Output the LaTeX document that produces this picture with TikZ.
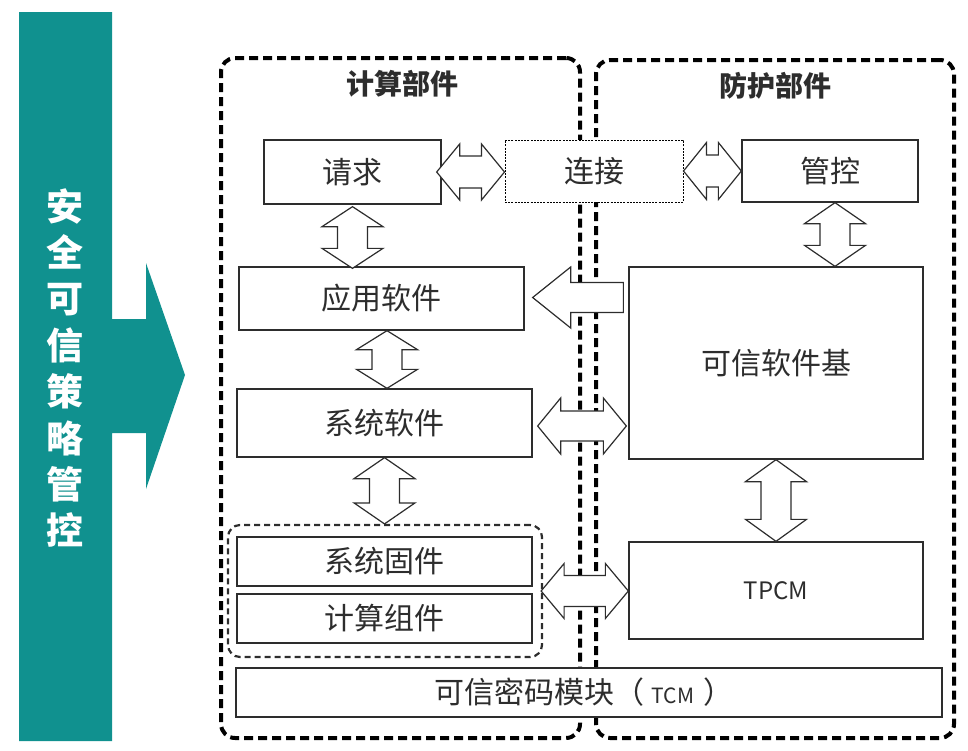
\documentclass[tikz,border=0pt]{standalone}
\usepackage{fontspec}
\setmainfont{Noto Sans CJK SC}
\usetikzlibrary{calc}
\definecolor{tealc}{RGB}{16,145,143}
\definecolor{ink}{RGB}{45,45,45}
\tikzset{
  box/.style={draw=ink, line width=1.3pt, fill=white, inner sep=0pt, text=ink,
    font=\fontsize{30}{30}\selectfont},
  dotbox/.style={box, draw=black, line width=1pt, dash pattern=on 2pt off 1.2pt},
  container/.style={draw=black, line width=4pt, dash pattern=on 9pt off 5pt,
    rounded corners=14pt, inner sep=0pt},
  innerdash/.style={draw=ink, line width=2.2pt, dash pattern=on 6pt off 4pt,
    rounded corners=12pt, inner sep=0pt},
  barrow/.style={draw=ink, line width=1.2pt, fill=white, line join=miter},
  titletext/.style={font=\bfseries\fontsize{28}{28}\selectfont, text=ink},
}
% horizontal double block arrow: #1 left point, #2 right point (x only),
% #3 shaft half width, #4 head half width, #5 head length
\newcommand\hdarrow[5]{%
  \draw[barrow] let \p1=#1, \p2=#2 in
    (\x1,\y1) -- (\x1+#5,\y1+#4) -- (\x1+#5,\y1+#3) -- (\x2-#5,\y1+#3)
    -- (\x2-#5,\y1+#4) -- (\x2,\y1) -- (\x2-#5,\y1-#4) -- (\x2-#5,\y1-#3)
    -- (\x1+#5,\y1-#3) -- (\x1+#5,\y1-#4) -- cycle;}
% vertical double block arrow: #1 top point, #2 bottom point (y only)
\newcommand\vdarrow[5]{%
  \draw[barrow] let \p1=#1, \p2=#2 in
    (\x1,\y1) -- (\x1+#4,\y1-#5) -- (\x1+#3,\y1-#5) -- (\x1+#3,\y2+#5)
    -- (\x1+#4,\y2+#5) -- (\x1,\y2) -- (\x1-#4,\y2+#5) -- (\x1-#3,\y2+#5)
    -- (\x1-#3,\y1-#5) -- (\x1-#4,\y1-#5) -- cycle;}
\begin{document}
\begin{tikzpicture}[x=1pt,y=-1pt]
\useasboundingbox (0,0) rectangle (968,750);
% teal policy arrow
\fill[tealc] (19,12) -- (112,12) -- (112,319) -- (146,319) -- (146,263)
  -- (185,375) -- (146,489) -- (146,433) -- (112,433) -- (112,741)
  -- (19,741) -- cycle;
\node[text=white, font=\bfseries\fontsize{37}{46.4}\selectfont, align=center,
  inner sep=0pt] (policy) at (65,368) {安\\全\\可\\信\\策\\略\\管\\控};
% containers
\node[container, minimum width=359, minimum height=680] (compute) at (400.5,398) {};
\node[container, minimum width=358, minimum height=678] (protect) at (775,399) {};
\node[titletext] (ctitle) at (402,84) {计算部件};
\node[titletext] (ptitle) at (775,86) {防护部件};
% inner group
\node[innerdash, minimum width=314, minimum height=132] (grp) at (385,591) {};
% boxes
\node[box, minimum width=177, minimum height=64] (req) at (352.5,172) {请求};
\node[dotbox, minimum width=178, minimum height=62] (conn) at (594,171) {连接};
\node[box, minimum width=176, minimum height=62] (ctrl) at (830,171) {管控};
\node[box, minimum width=285, minimum height=63] (app) at (381.5,298.5) {应用软件};
\node[box, minimum width=295, minimum height=68] (sys) at (384.5,423) {系统软件};
\node[box, minimum width=294, minimum height=192] (tsb) at (776,363) {可信软件基};
\node[box, minimum width=294, minimum height=97, font=\fontsize{24}{24}\selectfont] (tpcm) at (776,590.5) {TPCM};
\node[box, minimum width=295, minimum height=49] (fw) at (384.5,561.5) {系统固件};
\node[box, minimum width=295, minimum height=49] (comp) at (384.5,618.5) {计算组件};
\node[box, minimum width=706, minimum height=49] (tcm) at (589,692.5) {};
\node[text=ink, font=\fontsize{30}{30}\selectfont, inner sep=0pt] (tcmtext) at (584,692.5)
  {可信密码模块（\hspace{7pt}{\fontsize{21}{21}\selectfont TCM}\hspace{9pt}）};
% horizontal double arrows
\hdarrow{([xshift=-5pt]req.east)}{(conn.west)}{16pt}{28pt}{23pt}
\hdarrow{(conn.east)}{(ctrl.west)}{16pt}{28.5pt}{23pt}
\hdarrow{([shift={(5,3)}]sys.east)}{([xshift=-2pt]tsb.west)}{15pt}{28pt}{23pt}
\hdarrow{([xshift=-2pt]grp.east)}{(tpcm.west)}{15.5pt}{27.5pt}{23pt}
% vertical double arrows
\vdarrow{([yshift=-2pt]req.south)}{([yshift=-2pt]app.north)}{15pt}{30.5pt}{20pt}
\vdarrow{([xshift=5.5pt]app.south)}{(sys.north)}{15pt}{30.5pt}{19pt}
\vdarrow{(sys.south)}{(grp.north)}{15pt}{30.5pt}{21pt}
\vdarrow{([xshift=5pt]ctrl.south)}{(tsb.north)}{15pt}{30.5pt}{21pt}
\vdarrow{(tsb.south)}{(tpcm.north)}{15pt}{30.5pt}{22pt}
% single arrow from trusted software base to application software
\draw[barrow] let \p1=([shift={(8,-1)}]app.east), \p2=([xshift=-5pt]tsb.west) in
  (\x1,\y1) -- (\x1+38pt,\y1+30.5pt) -- (\x1+38pt,\y1+15pt) -- (\x2,\y1+15pt)
  -- (\x2,\y1-15pt) -- (\x1+38pt,\y1-15pt) -- (\x1+38pt,\y1-30.5pt) -- cycle;
\end{tikzpicture}
\end{document}
